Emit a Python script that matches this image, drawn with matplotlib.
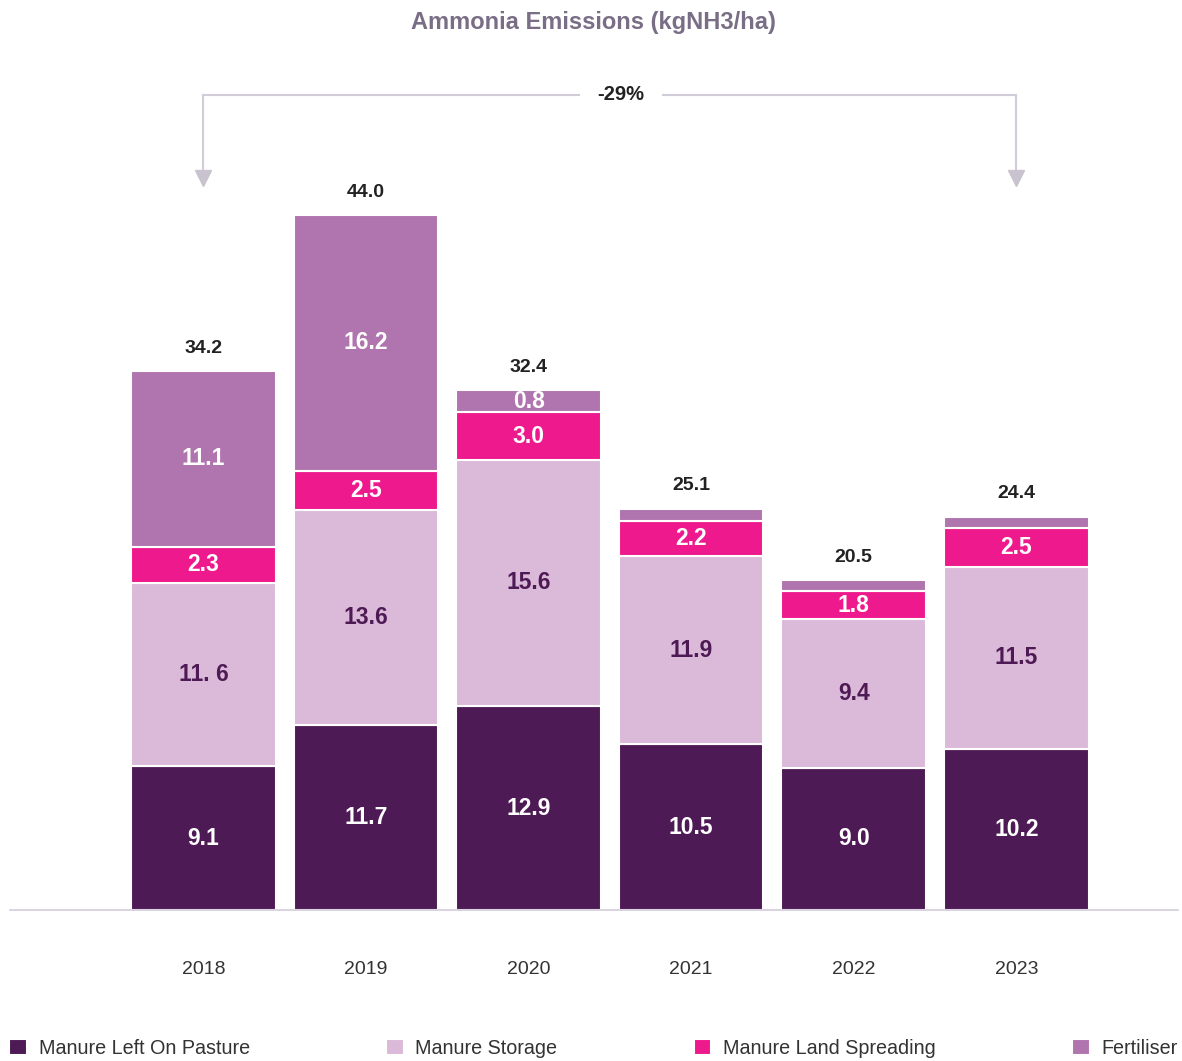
import matplotlib.pyplot as plt

plt.rcParams['font.family'] = ['Liberation Sans', 'DejaVu Sans']

years = ["2018", "2019", "2020", "2021", "2022", "2023"]
pasture = [9.1, 11.7, 12.9, 10.5, 9.0, 10.2]
storage = [11.6, 13.6, 15.6, 11.9, 9.4, 11.5]
spreading = [2.3, 2.5, 3.0, 2.2, 1.8, 2.5]
fertiliser = [11.1, 16.2, 1.4, 0.8, 0.7, 0.7]
totals = ["34.2", "44.0", "32.4", "25.1", "20.5", "24.4"]

pasture_lbl = ["9.1", "11.7", "12.9", "10.5", "9.0", "10.2"]
storage_lbl = ["11. 6", "13.6", "15.6", "11.9", "9.4", "11.5"]
spreading_lbl = ["2.3", "2.5", "3.0", "2.2", "1.8", "2.5"]
fertiliser_lbl = ["11.1", "16.2", "0.8", "", "", ""]

change_lbl = "-29%"

c_pasture = "#4E1A55"
c_storage = "#DBB9D8"
c_spread = "#EE1A8D"
c_fert = "#B074AE"
c_line = "#D2CCD9"

fig = plt.figure(figsize=(11.82, 10.61), dpi=100)
ax = fig.add_axes([10 / 1182, 151 / 1061, 1168 / 1182, 832 / 1061])

x = list(range(len(years)))
w = 0.89
b1 = pasture
b2 = [a + b for a, b in zip(b1, storage)]
b3 = [a + b for a, b in zip(b2, spreading)]
b4 = [a + b for a, b in zip(b3, fertiliser)]

kw = dict(width=w, edgecolor="white", linewidth=1.5)
ax.bar(x, pasture, color=c_pasture, label="Manure Left On Pasture", **kw)
ax.bar(x, storage, bottom=b1, color=c_storage, label="Manure Storage", **kw)
ax.bar(x, spreading, bottom=b2, color=c_spread, label="Manure Land Spreading", **kw)
ax.bar(x, fertiliser, bottom=b3, color=c_fert, label="Fertiliser", **kw)

fs = 16.5
for i in x:
    ax.text(i, pasture[i] / 2, pasture_lbl[i], ha="center", va="center",
            color="white", fontsize=fs, fontweight="bold")
    ax.text(i, b1[i] + storage[i] / 2, storage_lbl[i], ha="center", va="center",
            color=c_pasture, fontsize=fs, fontweight="bold")
    ax.text(i, b2[i] + spreading[i] / 2, spreading_lbl[i], ha="center", va="center",
            color="white", fontsize=fs, fontweight="bold")
    if fertiliser_lbl[i]:
        ax.text(i, b3[i] + fertiliser[i] / 2, fertiliser_lbl[i], ha="center", va="center",
                color="white", fontsize=fs, fontweight="bold")
    ax.text(i, b4[i] + 0.9, totals[i], ha="center", va="bottom",
            color="#222222", fontsize=14, fontweight="bold")

# change bracket between first and last year
y_top = 51.6
ax.plot([0, 0], [y_top, 46.9], color=c_line, lw=1.5)
ax.plot([5, 5], [y_top, 46.9], color=c_line, lw=1.5)
ax.plot([0, 2.31], [y_top, y_top], color=c_line, lw=1.5)
ax.plot([2.83, 5], [y_top, y_top], color=c_line, lw=1.5)
ax.plot([0, 5], [46.3, 46.3], linestyle="none", marker="v", markersize=11,
        color="#C9C3D0")
ax.text(2.57, y_top, change_lbl, ha="center", va="center", fontsize=14.5,
        fontweight="bold", color="#222222")

ax.set_xlim(-1.19, 5.995)
ax.set_ylim(0, 52.66)
for s in ["top", "right", "left"]:
    ax.spines[s].set_visible(False)
ax.spines["bottom"].set_color(c_line)
ax.spines["bottom"].set_linewidth(1.2)
ax.set_yticks([])
ax.set_xticks(x)
ax.set_xticklabels(years, fontsize=14, color="#333333")
ax.tick_params(axis="x", length=0, pad=37)

fig.text(0.502, 1 - 23 / 1061, "Ammonia Emissions (kgNH3/ha)", ha="center", va="center",
         fontsize=17, fontweight="bold", color="#7A6E86")

h, l = ax.get_legend_handles_labels()
fig.legend(h, l, loc="center", ncol=4, mode="expand",
           bbox_to_anchor=(9 / 1182, 1 - 1048 / 1061 - 0.01, 1169 / 1182, 0.02),
           frameon=False, fontsize=14.2, handlelength=0.9, handleheight=0.9,
           handletextpad=0.6, borderaxespad=0, borderpad=0, labelcolor="#333333")

fig.savefig("out.png", dpi=100)
